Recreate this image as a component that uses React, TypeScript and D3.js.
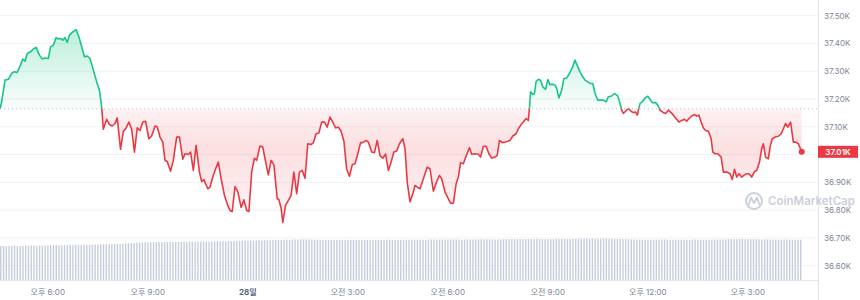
import React from 'react';
import * as d3 from 'd3';

const START = new Date(2023, 10, 27, 16, 34);
const OPEN_PRICE = 37165;
const LAST_PRICE = 37010;

const priceMinutes = [
  0,3,9,15,21,25,31,37,41,45, 49,55,60,65,71,76,81,87,91,96,
  101,105,109,113,117,121,125,131,137,142, 147,152,157,162,168,174,179,183,186,192,
  197,202,207,211,217,222,227,232,237,242, 247,252,257,262,268,273,279,283,288,293,
  297,301,307,312,318,323,329,333,339,343, 348,353,359,363,367,
  374,378,382,387,393,398,404,410,414,418, 423,428,434,439,444,448,453,458,462,468,
  473,477,483,488,493,499,502,506,509,514, 519,524,529,534,539,544,549,554,560,564,
  569,574,579,584,589,594,599,604,609,614, 619,624,629,634,639,644,649,653,659,663,
  669,674,679,684,689,694,699,704,709,714, 719,725,729,733,738,743,747,751,756,762,
  769,774,780,786,791,795,801,807,811,816, 821,825,829,834,839,845,849,855,861,865,
  870,875,880,885,891,895,899,904,909,914, 918,923,929,933,938,942,947,951,953,955,
  959,962,965,969,973,977,982,986,990,995, 999,1002,1006,1011,1015,1020,1025,1030,1035,1039,
  1044,1049,1053,1058,1062,1067,1071,1076,1081,1086, 1091,1095,1101,1106,1112,1116,1119,1122,1126,1131,
  1136,1140,1144,1147,1152,1156,1161,1166,1170,1174, 1180,1184,1188,1194,1198,1203,1208,1212,1216,1222,
  1227,1232,1236,1240,1245,1250,1254,1258,1262,1266, 1270,1275,1280,1283,1287,1292,1298,1302,1308,1314,
  1318,1322,1326,1330,1335,1340,1344,1348,1353,1358, 1362,1367,1371,1374,1378,1383,1386,1390,1395,1401,
  1406,1410,1414,1418,1423,1428,1432,1437,1443,
];

const prices = [
  37165,37190,37268,37271,37292,37298,37296,37322,37344,37336,
  37364,37370,37380,37386,37358,37344,37348,37346,37388,37394,
  37421,37416,37418,37412,37421,37404,37430,37442,37450,37424,
  37388,37352,37355,37346,37304,37262,37232,37171,37091,37127,
  37108,37103,37112,37132,37019,37084,37096,37117,37091,37009,
  37096,37087,37117,37120,37057,37067,37103,37099,37063,37045,
  36979,36975,36940,36979,37063,37063,36983,37003,37000,37009,
  36943,37033,36937,36903,36910,
  36877,36883,36913,36943,36973,36913,36853,36817,36799,36795,
  36885,36867,36810,36837,36799,36795,36937,36987,36979,37031,
  37027,36985,36927,36979,36963,36841,36838,36807,36756,36817,
  36835,36853,36937,36859,36937,36943,36915,37039,37036,37043,
  37075,37078,37117,37117,37099,37135,37117,37096,37099,37084,
  37048,36947,36922,36963,36967,37003,37043,37043,37051,37045,
  37009,37007,37051,36995,36987,37002,36943,36973,37009,37013,
  37039,37057,37021,36901,36830,36859,36889,36883,36877,36913,
  36955,36949,36868,36903,36925,36913,36865,36841,36825,36825,
  36895,36919,36971,36967,36995,37025,37001,37003,37001,36991,
  37030,37030,37003,36987,36991,36997,37051,37043,37045,37048,
  37051,37067,37075,37093,37108,37117,37130,37123,37168,37226,
  37216,37220,37264,37271,37268,37244,37235,37270,37252,37253,
  37250,37238,37204,37232,37274,37276,37292,37312,37340,37320,
  37298,37280,37268,37262,37256,37256,37220,37196,37196,37196,
  37190,37208,37211,37220,37211,37184,37160,37148,37156,37166,
  37156,37151,37153,37142,37184,37190,37204,37210,37199,37187,
  37187,37178,37160,37151,37148,37160,37151,37142,37132,37117,
  37123,37127,37120,37130,37139,37144,37139,37142,37117,37096,
  37087,37084,37057,37009,37003,37003,36991,36937,36937,36931,
  36910,36947,36919,36931,36919,36927,36931,36931,36919,36939,
  36943,36973,37021,37039,36991,36985,37027,37057,37063,37066,
  37075,37093,37112,37099,37117,37045,37045,37039,37010,
];

// 24h volume (billions), one bar every 5 minutes
const volumeB = [
  12.2,12.2,12.1,12.2,12.2,12.3,12.2,12.2,12.2,12.3,12.2,12.3,12.3,12.2,12.3,12.3,12.3,12.4,
  12.4,12.5,12.5,12.4,12.5,12.5,12.5,12.6,12.5,12.6,12.6,12.5,12.6,12.6,12.6,12.6,12.7,12.7,
  12.7,12.8,12.8,12.8,12.8,12.9,12.9,12.9,13.0,13.1,13.1,13.2,13.2,13.3,13.3,
  13.4,13.5,13.5,13.5,13.5,13.5,13.6,13.5,13.5,13.6,13.6,13.6,13.6,13.6,13.6,13.7,13.6,13.7,13.7,13.7,13.7,
  13.7,13.8,13.8,13.7,13.8,13.8,13.8,13.8,13.9,13.8,13.9,13.9,13.9,14.0,14.0,14.0,14.0,14.0,
  14.1,14.1,14.1,14.2,14.1,14.2,14.2,14.2,14.3,14.3,14.3,14.3,14.4,14.4,
  14.4,14.5,14.5,14.5,14.5,14.5,14.5,14.5,14.5,14.4,14.4,14.4,
  14.3,14.3,14.3,14.3,14.3,14.3,14.3,14.2,14.2,14.3,14.3,14.3,14.3,14.3,14.3,14.3,14.3,14.3,
  14.3,14.3,14.3,14.3,14.3,14.4,14.4,14.3,14.3,14.3,14.3,14.4,14.4,14.4,14.4,14.4,14.4,
  14.4,14.4,14.4,14.5,14.5,14.5,14.4,14.4,14.5,14.5,14.5,14.5,14.5,14.5,14.4,14.4,14.5,14.5,
  14.5,14.5,14.5,14.5,14.6,14.5,14.5,14.5,14.5,14.5,14.5,
  14.5,14.6,14.6,14.6,14.6,14.6,14.6,14.6,14.6,14.6,14.6,14.6,14.6,14.7,14.6,14.6,14.6,14.6,
  14.6,14.6,14.7,14.7,14.7,14.7,14.6,14.6,
  14.7,14.7,14.8,14.8,14.8,14.8,14.8,14.8,14.8,14.8,14.8,14.8,14.8,14.8,14.8,14.7,14.7,14.7,14.6,14.6,
  14.5,14.5,14.5,14.4,14.4,14.4,14.4,14.4,14.4,14.4,14.4,14.4,14.5,14.5,14.4,14.4,14.4,14.4,
  14.4,14.4,14.4,14.4,14.4,14.5,14.5,14.4,14.4,14.4,14.4,14.4,14.4,14.5,14.5,14.5,14.5,
  14.5,14.6,14.6,14.6,14.6,14.6,14.7,14.6,14.6,14.6,14.6,14.6,14.5,14.5,14.5,
  14.5,14.5,14.4,14.4,14.4,14.4,14.5,14.5,14.4,14.4,14.4,14.4,14.4,
];

const yTicks = [36600, 36700, 36800, 36900, 37000, 37100, 37200, 37300, 37400, 37500];
const xTickTimes = [
  new Date(2023, 10, 27, 18, 0), new Date(2023, 10, 27, 21, 0), new Date(2023, 10, 28, 0, 0),
  new Date(2023, 10, 28, 3, 0), new Date(2023, 10, 28, 6, 0), new Date(2023, 10, 28, 9, 0),
  new Date(2023, 10, 28, 12, 0), new Date(2023, 10, 28, 15, 0),
];
const xTickLabels = ['오후 6:00', '오후 9:00', '28일', '오전 3:00', '오전 6:00', '오전 9:00', '오후 12:00', '오후 3:00'];

const GREEN = '#16c784';
const RED = '#ea3943';
const FONT = "Inter, 'Noto Sans CJK KR', 'Noto Sans', sans-serif";

type Pt = { t: Date; p: number };

export default function App() {
  const W = 860, H = 300;
  const axisX = 818;
  const minute = 60000;
  const x = d3.scaleTime()
    .domain([START, new Date(+START + 1443 * minute)])
    .range([0, 801.7]);
  const y = d3.scaleLinear().domain([36600, 37500]).range([265.7, 15.7]);
  const yv = d3.scaleLinear().domain([0, 15]).range([280, 238]);

  const data: Pt[] = priceMinutes.map((m, i) => ({ t: new Date(+START + m * minute), p: prices[i] }));
  const base = y(OPEN_PRICE);
  const lineGen = d3.line<Pt>().x(d => x(d.t)).y(d => y(d.p));
  const areaGen = d3.area<Pt>().x(d => x(d.t)).y0(base).y1(d => y(d.p));
  const linePath = lineGen(data) || '';
  const areaPath = areaGen(data) || '';
  const last = data[data.length - 1];
  const lastY = y(LAST_PRICE);

  const volTimes = volumeB.map((_, i) => new Date(+START + i * 5 * minute));
  const fmt = (v: number) => (v / 1000).toFixed(2) + 'K';
  // tick labels hidden behind the last-price tag are not drawn
  const visibleTicks = yTicks.filter(v => Math.abs(y(v) - lastY) > 8);

  return (
    <svg width={W} height={H} style={{ position: 'absolute', left: 0, top: 0, background: '#fff' }}>
      <defs>
        <clipPath id="above"><rect x={0} y={0} width={axisX} height={base} /></clipPath>
        <clipPath id="below"><rect x={0} y={base} width={axisX} height={H - base} /></clipPath>
        <linearGradient id="gGreen" gradientUnits="userSpaceOnUse" x1={0} y1={25} x2={0} y2={base}>
          <stop offset="0" stopColor={GREEN} stopOpacity={0.3} />
          <stop offset="1" stopColor={GREEN} stopOpacity={0.02} />
        </linearGradient>
        <linearGradient id="gRed" gradientUnits="userSpaceOnUse" x1={0} y1={base} x2={0} y2={225}>
          <stop offset="0" stopColor={RED} stopOpacity={0.07} />
          <stop offset="0.35" stopColor={RED} stopOpacity={0.16} />
          <stop offset="1" stopColor={RED} stopOpacity={0.04} />
        </linearGradient>
      </defs>

      {/* grid */}
      {yTicks.map(v => (
        <line key={v} x1={0} x2={axisX} y1={y(v)} y2={y(v)} stroke="#eff2f5" strokeWidth={1} />
      ))}
      <line x1={0} x2={axisX} y1={280.5} y2={280.5} stroke="#e3e6eb" strokeWidth={1} />

      {/* volume */}
      {volumeB.map((v, i) => (
        <rect key={i} x={x(volTimes[i])} y={yv(v)} width={1.4} height={280 - yv(v)} fill="#c6cedc" />
      ))}

      {/* areas */}
      <path d={areaPath} fill="url(#gGreen)" clipPath="url(#above)" />
      <path d={areaPath} fill="url(#gRed)" clipPath="url(#below)" />

      {/* baseline */}
      <line x1={0} x2={axisX} y1={base} y2={base} stroke="#b9bec8" strokeWidth={1} strokeDasharray="1,3" />

      {/* price line */}
      <path d={linePath} fill="none" stroke={GREEN} strokeWidth={1.6} strokeLinejoin="round" clipPath="url(#above)" />
      <path d={linePath} fill="none" stroke={RED} strokeWidth={1.6} strokeLinejoin="round" clipPath="url(#below)" />
      <circle cx={x(last.t)} cy={y(last.p)} r={3} fill={RED} />

      {/* right axis */}
      <line x1={axisX + 0.5} x2={axisX + 0.5} y1={0} y2={H} stroke="#dfe2e7" strokeWidth={1} />
      {visibleTicks.map(v => (
        <text key={v} x={824} y={y(v) + 3} fontSize={8} fill="#7d8597" fontFamily={FONT}>{fmt(v)}</text>
      ))}

      {/* watermark */}
      <g opacity={0.9}>
        <circle cx={754} cy={201} r={8} fill="none" stroke="#c6cbd4" strokeWidth={2} />
        <path d="M748.5,205 L751,197.5 L754,203 L757,197.5 L759.5,205" fill="none" stroke="#c6cbd4" strokeWidth={1.8} strokeLinejoin="round" />
        <text x={768} y={205} fontSize={11.5} fontWeight={600} fill="#c6cbd4" fontFamily={FONT}>CoinMarketCap</text>
      </g>

      {/* last price label */}
      <rect x={axisX} y={lastY - 6} width={40} height={12} fill={RED} />
      <text x={838} y={lastY + 3} fontSize={8} fontWeight={600} fill="#fff" textAnchor="middle" fontFamily={FONT}>{fmt(LAST_PRICE)}</text>

      {/* x axis labels */}
      {xTickTimes.map((t, i) => (
        <text key={i} x={x(t)} y={294.5} fontSize={8} textAnchor="middle" fontFamily={FONT}
          fill={i === 2 ? '#58667e' : '#7d8597'} fontWeight={i === 2 ? 700 : 400}>{xTickLabels[i]}</text>
      ))}
    </svg>
  );
}
